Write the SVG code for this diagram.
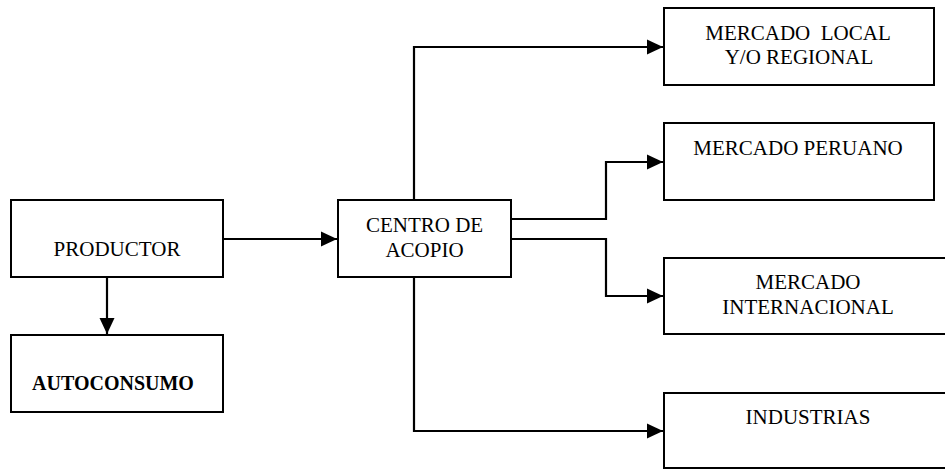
<svg xmlns="http://www.w3.org/2000/svg" width="945" height="469" viewBox="0 0 945 469">
<defs>
<style>
.box{fill:#fff;stroke:#000;stroke-width:2}
.con{fill:none;stroke:#000;stroke-width:2.2}
text{font-family:"Liberation Serif","Times New Roman",serif;font-size:21px;fill:#000;text-anchor:middle}
.b{font-weight:bold;font-size:20px}
</style>
<marker id="arr" markerUnits="userSpaceOnUse" markerWidth="16" markerHeight="16" viewBox="0 0 16 16" refX="16" refY="8" orient="auto">
<path d="M0,0.5 L16,8 L0,15.5 Z" fill="#000"/>
</marker>
</defs>
<rect width="945" height="469" fill="#fff"/>
<g id="connectors">
<path class="con" d="M223,239 H337" marker-end="url(#arr)"/>
<path class="con" d="M107,277 V334" marker-end="url(#arr)"/>
<path class="con" d="M414,200 V47 H663" marker-end="url(#arr)"/>
<path class="con" d="M511,219 H606 V162 H663" marker-end="url(#arr)"/>
<path class="con" d="M511,239 H606 V296 H663" marker-end="url(#arr)"/>
<path class="con" d="M414,277 V431 H663" marker-end="url(#arr)"/>
</g>
<g id="productor">
<rect class="box" x="11" y="200" width="212" height="77"/>
<text x="117" y="256">PRODUCTOR</text>
</g>
<g id="autoconsumo">
<rect class="box" x="11" y="335" width="212" height="77"/>
<text class="b" x="113" y="390">AUTOCONSUMO</text>
</g>
<g id="centro-acopio">
<rect class="box" x="338" y="200" width="173" height="77"/>
<text x="424.5" y="231.5">CENTRO DE</text>
<text x="424.5" y="256.5">ACOPIO</text>
</g>
<g id="mercado-local">
<rect class="box" x="664" y="8" width="270" height="77"/>
<text x="798" y="40" xml:space="preserve">MERCADO  LOCAL</text>
<text x="799" y="64">Y/O REGIONAL</text>
</g>
<g id="mercado-peruano">
<rect class="box" x="664" y="123" width="270" height="77"/>
<text x="798" y="155">MERCADO PERUANO</text>
</g>
<g id="mercado-internacional">
<rect class="box" x="664" y="258" width="290" height="76"/>
<text x="808" y="289">MERCADO</text>
<text x="808" y="314">INTERNACIONAL</text>
</g>
<g id="industrias">
<rect class="box" x="664" y="393" width="290" height="75"/>
<text x="808" y="424">INDUSTRIAS</text>
</g>
</svg>
